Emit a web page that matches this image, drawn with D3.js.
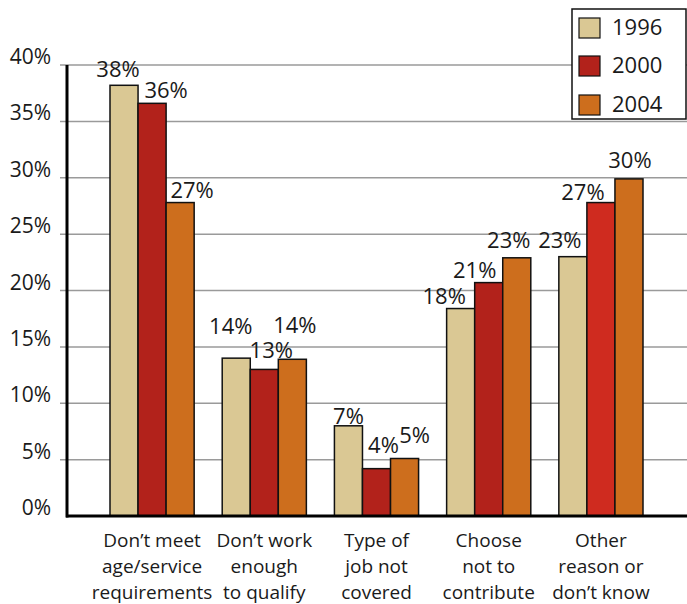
<!DOCTYPE html>
<html><head><meta charset="utf-8">
<script src="https://cdn.jsdelivr.net/npm/d3@7"></script>
<style>body{margin:0;background:#fff}svg{display:block}text{font-family:"Open Sans",sans-serif;fill:#1a1a1a}</style>
</head><body><svg id="c" width="687" height="604"></svg>
<script>
const categories = [["Don\u2019t meet","age/service","requirements"],["Don\u2019t work","enough","to qualify"],["Type of","job not","covered"],["Choose","not to","contribute"],["Other","reason or","don\u2019t know"]];
const series = ["1996","2000","2004"];
const values1996 = [38.2, 14.0, 8.0, 18.4, 23.0];
const values2000 = [36.6, 13.0, 4.2, 20.7, 27.8];
const values2004 = [27.8, 13.9, 5.1, 22.9, 29.9];
const labels1996 = ["38%","14%","7%","18%","23%"];
const labels2000 = ["36%","13%","4%","21%","27%"];
const labels2004 = ["27%","14%","5%","23%","30%"];
const yTicks = [0,5,10,15,20,25,30,35,40];

// layout / style
const colors = ["#dac894","#b2221b","#cd6e1d"];
const colorOverride = {"4-1":"#cf2b1f"};
const labelDx = [[-6,14,12],[-5.5,7,2.5],[0,7,10],[-16.5,-14,-8],[-13,-18,1]];
const labelDy = [[-8,-5,-5],[-24,-11,-26],[-2,-16,-15],[-5,-5,-10],[-9,-3,-11]];
const svg = d3.select("#c");
const x0 = d3.scaleBand().domain(d3.range(categories.length)).range([110,643]).paddingInner(0.25).paddingOuter(0);
const x1 = d3.scaleBand().domain(series).range([0,x0.bandwidth()]);
const y = d3.scaleLinear().domain([0,40]).range([516,65]);

const vals = [values1996, values2000, values2004];
const labs = [labels1996, labels2000, labels2004];

// gridlines
svg.append("g").selectAll("line").data(yTicks.filter(d=>d>0)).join("line")
  .attr("x1",60).attr("x2",687).attr("y1",d=>y(d)).attr("y2",d=>y(d))
  .attr("stroke","#9a9a9a").attr("stroke-width",1.5);
// tick labels
svg.append("g").selectAll("text").data(yTicks).join("text")
  .attr("x",51).attr("y",d=>y(d)-1).attr("text-anchor","end")
  .attr("font-size",21).text(d=>d+"%");

// bars
const g = svg.append("g");
categories.forEach((c,i)=>{
  series.forEach((s,j)=>{
    const v = vals[j][i];
    g.append("rect").attr("x",x0(i)+x1(s)).attr("y",y(v))
      .attr("width",x1.bandwidth()).attr("height",y(0)-y(v))
      .attr("fill",colorOverride[i+"-"+j]||colors[j]).attr("stroke","#111").attr("stroke-width",1.5);
    g.append("text").attr("x",x0(i)+x1(s)+x1.bandwidth()/2+labelDx[i][j]).attr("y",y(v)+labelDy[i][j])
      .attr("text-anchor","middle").attr("font-size",22).text(labs[j][i]);
  });
  const t = svg.append("text").attr("text-anchor","middle").attr("font-size",19);
  c.forEach((line,k)=>t.append("tspan").attr("x",x0(i)+x0.bandwidth()/2).attr("y",547+k*26).text(line));
});

// axes
svg.append("line").attr("x1",67).attr("x2",67).attr("y1",y(40)).attr("y2",y(0)+1.5).attr("stroke","#000").attr("stroke-width",3);
svg.append("line").attr("x1",66).attr("x2",687).attr("y1",y(0)).attr("y2",y(0)).attr("stroke","#000").attr("stroke-width",3);

// legend
const lg = svg.append("g");
lg.append("rect").attr("x",572).attr("y",9).attr("width",114).attr("height",110).attr("fill","#fff").attr("stroke","#111").attr("stroke-width",1.5);
const swY = [18,56,95];
series.forEach((s,j)=>{
  lg.append("rect").attr("x",579).attr("y",swY[j]).attr("width",21).attr("height",20).attr("fill",colors[j]).attr("stroke","#111").attr("stroke-width",1.2);
  lg.append("text").attr("x",612).attr("y",swY[j]+17).attr("font-size",22).text(s);
});
</script></body></html>
